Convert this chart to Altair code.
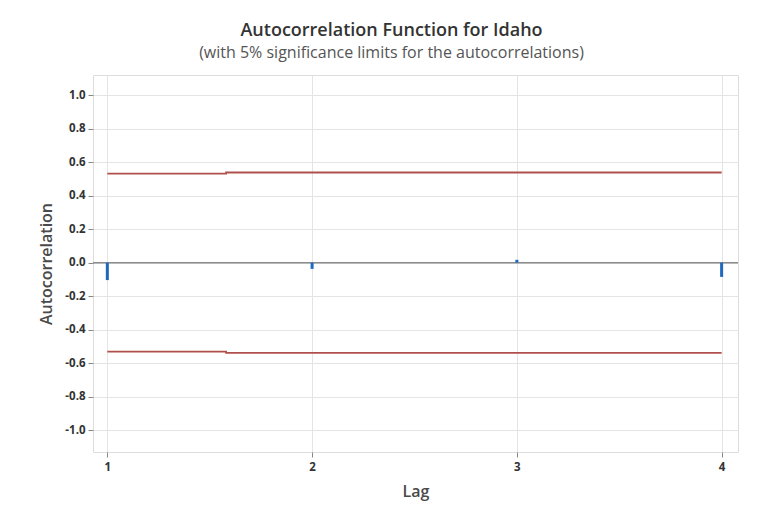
import altair as alt
import pandas as pd

# ACF values
lags = [1, 2, 3, 4]
acf = [-0.104, -0.037, 0.017, -0.085]

# significance limit step line (lag position, limit value)
limit_lag = [1.0, 1.58, 1.58, 4.0]
limit_val = [0.531, 0.531, 0.538, 0.538]

y_ticks = [-1.0, -0.8, -0.6, -0.4, -0.2, 0.0, 0.2, 0.4, 0.6, 0.8, 1.0]

acf_df = pd.DataFrame({"Lag": lags, "ACF": acf, "zero": [0.0] * len(lags)})
lim_rows = []
for x, v in zip(limit_lag, limit_val):
    lim_rows.append({"Lag": x, "Limit": v, "side": "upper"})
for x, v in zip(limit_lag, limit_val):
    lim_rows.append({"Lag": x, "Limit": -v, "side": "lower"})
lim_df = pd.DataFrame(lim_rows)

FONT = "Open Sans"
xscale = alt.Scale(domain=[0.93, 4.08], nice=False, zero=False)
yscale = alt.Scale(domain=[-1.13, 1.12], nice=False, zero=False)

xaxis = alt.Axis(values=lags, format="d", title="Lag", grid=True, gridColor="#e4e4e4",
                 domain=False, tickColor="#888", tickSize=5, labelFontSize=11.5,
                 labelFontWeight="bold", labelColor="#333", labelFont=FONT,
                 labelOverlap=False,
                 titleFont=FONT, titleFontSize=16, titleFontWeight=600,
                 titleColor="#4a4a4a", titlePadding=11, labelPadding=4)
yaxis = alt.Axis(values=y_ticks,
                 labelExpr="replace(format(datum.value, '.1f'), '\u2212', '-')",
                 title="Autocorrelation", grid=True, gridColor="#e4e4e4",
                 domain=False, tickColor="#888", tickSize=5, labelFontSize=11.5,
                 labelFontWeight="bold", labelColor="#333", labelFont=FONT,
                 labelOverlap=False,
                 titleFont=FONT, titleFontSize=16, titleFontWeight=600,
                 titleColor="#4a4a4a", titlePadding=10, labelPadding=3)

base_grid = alt.Chart(acf_df).mark_point(opacity=0).encode(
    x=alt.X("Lag:Q", scale=xscale, axis=xaxis),
    y=alt.Y("ACF:Q", scale=yscale, axis=yaxis),
)

zero_line = alt.Chart(acf_df).mark_rule(color="#8c8c8c", strokeWidth=1).encode(
    y=alt.Y("zero:Q", scale=yscale, axis=yaxis),
)

limits = alt.Chart(lim_df).mark_line(color="#b0504c", strokeWidth=1.8).encode(
    x=alt.X("Lag:Q", scale=xscale, axis=xaxis),
    y=alt.Y("Limit:Q", scale=yscale, axis=yaxis),
    detail="side:N",
)

bars = alt.Chart(acf_df).mark_rule(color="#1f68c0", strokeWidth=3).encode(
    x=alt.X("Lag:Q", scale=xscale, axis=xaxis),
    y=alt.Y("zero:Q", scale=yscale, axis=yaxis),
    y2="ACF:Q",
)

chart = alt.layer(base_grid, zero_line, limits, bars).properties(
    width=645,
    height=377,
    autosize=alt.AutoSizeParams(type="none"),
    padding={"left": 85, "top": 67, "right": 17, "bottom": 54},
    title=alt.Title(
        "Autocorrelation Function for Idaho",
        subtitle="(with 5% significance limits for the autocorrelations)",
        font=FONT, fontSize=18, fontWeight=600, color="#333",
        subtitleFont=FONT, subtitleFontSize=16, subtitleColor="#555",
        subtitlePadding=5, offset=14, anchor="middle", frame="group", dx=-24,
    ),
).configure_view(stroke="#a8a8a8", strokeWidth=1).configure(background="white")

chart.save("out.html", embed_options={"renderer": "svg", "actions": False})
